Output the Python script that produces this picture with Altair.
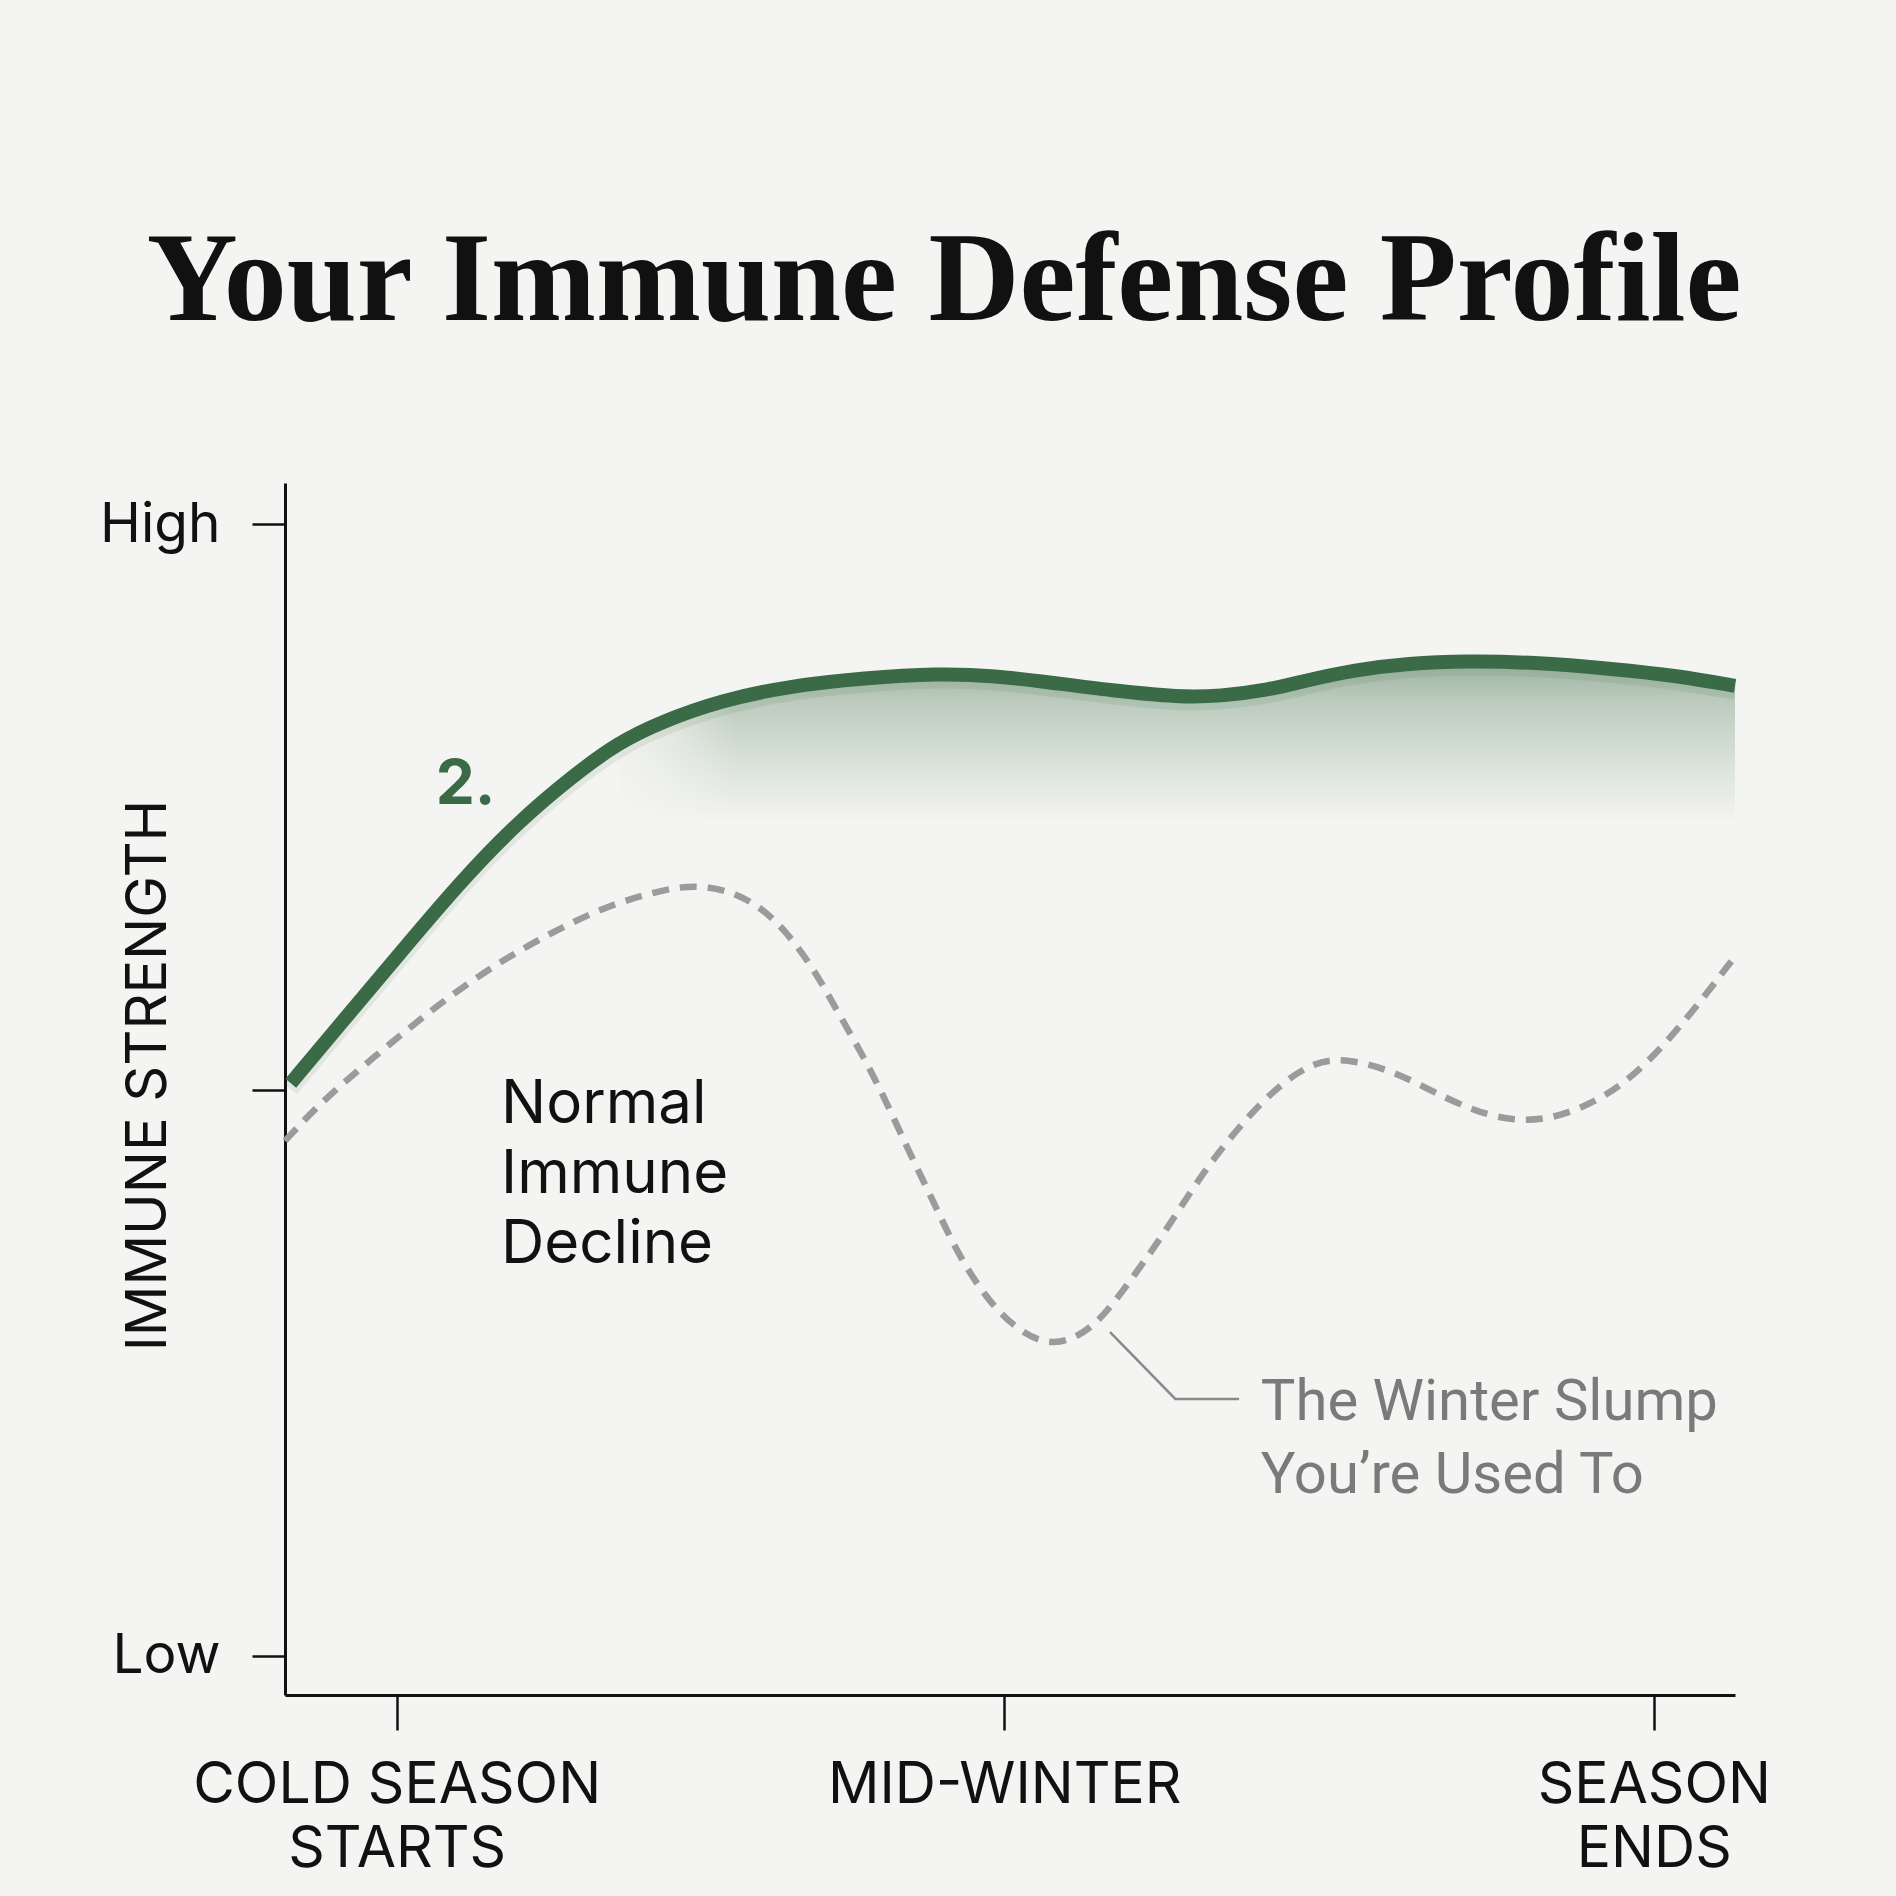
import json
import altair as alt
import pandas as pd

# ---------------- data ----------------
green_x = [0.4, 4.0, 8.0, 12.1, 16.0, 19.9, 23.0, 25.9, 30.0, 34.8, 40.0, 45.0, 49.0,
           52.8, 57.0, 61.7, 64.5, 67.7, 70.5, 73.7, 77.5, 81.5, 86.0, 91.7, 96.0, 100]
green_v = [50.6, 56.1, 62.2, 68.4, 73.6, 77.8, 80.7, 82.5, 84.4, 85.7, 86.4, 86.8, 86.6,
           86.0, 85.3, 84.7, 84.8, 85.3, 86.2, 87.1, 87.7, 87.9, 87.8, 87.2, 86.6, 85.7]

gray_x = [0, 2.6, 6.6, 10.5, 14.5, 18.5, 22.4, 26.4, 28.5, 31.1, 33.8, 36.4, 38.2, 40.6,
          42.9, 44.7, 46.5, 48.8, 50.9, 52.5, 54.1, 56.0, 58.0, 60.8, 63.5, 67.4, 70.5,
          72.9, 76.5, 80.1, 83.0, 85.6, 88.2, 92.1, 96.0, 100]
gray_v = [45.5, 49.1, 53.4, 57.5, 61.1, 64.0, 66.4, 67.8, 68.1, 67.5, 65.3, 60.9, 56.7, 51.4,
          44.9, 40.2, 35.2, 30.8, 28.5, 27.6, 27.8, 29.3, 32.6, 37.6, 43.2, 49.2, 52.3,
          52.9, 51.7, 49.2, 47.7, 47.2, 47.7, 50.0, 55.1, 61.8]

x_tick_values = [7.7, 49.6, 94.4]
x_tick_labels = [["COLD SEASON", "STARTS"], "MID-WINTER", ["SEASON", "ENDS"]]
y_tick_values = [0, 50, 100]
y_tick_labels = ["Low", "", "High"]

shade_start = 22.0
shade_floor = 73.6
fade_x = [22.0]
fade_x2 = [31.0]
fade_top = [90.0]

note_normal = ["Normal", "Immune", "Decline"]
note_normal_x = [14.9, 14.9, 14.9]
note_normal_v = [47.06, 40.9, 34.7]

note_slump = ["The Winter Slump", "You\u2019re Used To"]
note_slump_x = [67.3, 67.3]
note_slump_v = [20.8, 14.4]

leader_x = [56.9, 61.4, 65.8]
leader_v = [28.6, 22.7, 22.7]

marker_text = ["2."]
marker_x = [10.4]
marker_v = [75.3]

TITLE = "Your Immune Defense Profile"
Y_TITLE = "IMMUNE STRENGTH"

# ---------------- tables ----------------
green_df = pd.DataFrame({"x": green_x, "v": green_v})
shade_df = green_df[green_df["x"] >= shade_start].copy()
shade_df["floor"] = shade_floor
gray_df = pd.DataFrame({"x": gray_x, "v": gray_v})
fade_df = pd.DataFrame({"x": fade_x, "x2": fade_x2, "v": [shade_floor], "v2": fade_top})
normal_df = pd.DataFrame({"x": note_normal_x, "v": note_normal_v, "t": note_normal})
slump_df = pd.DataFrame({"x": note_slump_x, "v": note_slump_v, "t": note_slump})
leader_df = pd.DataFrame({"x": leader_x, "v": leader_v})
marker_df = pd.DataFrame({"x": marker_x, "v": marker_v, "t": marker_text})


def label_expr(values, labels):
    parts = [f"abs(datum.value - {v}) < 0.001 ? {json.dumps(l)}" for v, l in zip(values, labels)]
    return " : ".join(parts) + " : ''"


GREEN = "#3b6a47"
INK = "#111111"
BG = "#f4f4f2"

x_axis = alt.Axis(
    values=x_tick_values, labelExpr=label_expr(x_tick_values, x_tick_labels),
    title=None, grid=False,
    domainColor=INK, domainWidth=3, tickColor=INK, tickWidth=2.5, tickSize=35,
    labelFont="Inter", labelFontSize=57, labelColor=INK, labelPadding=27,
    labelLineHeight=64, labelBaseline="top", labelFlush=False, labelOverlap=False,
    labelAlign="center", labelLimit=0,
)
y_axis = alt.Axis(
    values=y_tick_values, labelExpr=label_expr(y_tick_values, y_tick_labels),
    title=Y_TITLE, titleFont="Inter", titleFontSize=56, titleFontWeight="normal",
    titleColor=INK, titleX=-137, titleY=592, titleAngle=270, titleAlign="center",
    titleBaseline="middle", titleLimit=0,
    grid=False, domainColor=INK, domainWidth=3, tickColor=INK, tickWidth=2.5,
    tickSize=33, labelPadding=32, labelFont="Inter", labelFontSize=55,
    labelColor=INK, labelBaseline="middle", labelOverlap=False, labelFlush=False,
    labelLimit=0,
)

xs = alt.Scale(domain=[0, 100], nice=False, zero=False)
ys = alt.Scale(domain=[-3.46, 103.63], nice=False, zero=False)
X = alt.X("x:Q", scale=xs, axis=x_axis)
Y = alt.Y("v:Q", scale=ys, axis=y_axis)

shade = alt.Chart(shade_df).mark_area(
    interpolate="basis",
    color=alt.Gradient(
        gradient="linear",
        stops=[
            alt.GradientStop(color="#9db3a1", offset=0),
            alt.GradientStop(color="#bccbbd", offset=0.25),
            alt.GradientStop(color="#dbe3db", offset=0.65),
            alt.GradientStop(color=BG, offset=1),
        ],
        x1=0, x2=0, y1=0, y2=1,
    ),
).encode(x=X, y=Y, y2="floor:Q")

fade = alt.Chart(fade_df).mark_rect(
    color=alt.Gradient(
        gradient="linear",
        stops=[
            alt.GradientStop(color="rgba(244,244,242,1)", offset=0),
            alt.GradientStop(color="rgba(244,244,242,0.6)", offset=0.5),
            alt.GradientStop(color="rgba(244,244,242,0)", offset=1),
        ],
        x1=0, x2=1, y1=0, y2=0,
    ),
).encode(x=X, x2="x2:Q", y=Y, y2="v2:Q")

gray_line = alt.Chart(gray_df).mark_line(
    interpolate="basis", color="#9b9b9b", strokeWidth=6.5, strokeDash=[17, 11]
).encode(x=X, y=Y)

green_shadow = alt.Chart(green_df).mark_line(
    interpolate="basis", color=GREEN, strokeWidth=16, opacity=0.10
).encode(x=X, y=Y, yOffset=alt.value(6))

green_line = alt.Chart(green_df).mark_line(
    interpolate="basis", color=GREEN, strokeWidth=14, strokeCap="butt"
).encode(x=X, y=Y)

leader = alt.Chart(leader_df).mark_line(color="#8a8a8a", strokeWidth=2.5).encode(x=X, y=Y)

normal_text = alt.Chart(normal_df).mark_text(
    align="left", baseline="alphabetic", font="Inter", fontSize=60, color=INK
).encode(x=X, y=Y, text="t:N")

slump_text = alt.Chart(slump_df).mark_text(
    align="left", baseline="alphabetic", font="Roboto", fontSize=58, color="#7a7a7a"
).encode(x=X, y=Y, text="t:N")

marker = alt.Chart(marker_df).mark_text(
    align="left", baseline="alphabetic", font="Inter", fontSize=62, fontWeight="bold",
    color=GREEN
).encode(x=X, y=Y, text="t:N")

chart = alt.layer(
    shade, fade, gray_line, green_shadow, green_line, leader, normal_text, slump_text, marker
).properties(
    width=1450, height=1212,
    autosize=alt.AutoSizeParams(type="none"),
    padding={"left": 285, "top": 483, "right": 161, "bottom": 201},
    title=alt.TitleParams(
        TITLE, font="Liberation Serif", fontSize=126, fontWeight="bold", color=INK,
        anchor="middle", frame="group", dx=-66, offset=37, baseline="alphabetic",
    ),
).configure(background=BG).configure_view(stroke=None)

chart.save("out.html", embed_options={"renderer": "svg", "actions": False})
